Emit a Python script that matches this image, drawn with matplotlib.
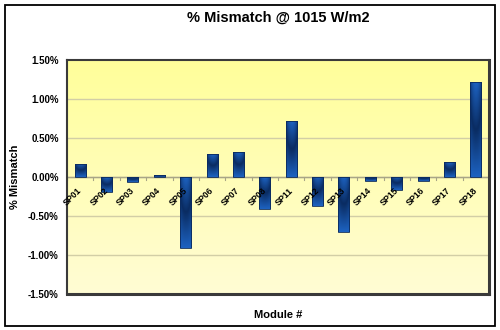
import numpy as np
import matplotlib.pyplot as plt
from matplotlib.colors import LinearSegmentedColormap
from matplotlib.patches import Rectangle
import matplotlib.transforms as mtransforms

# module ids and measured mismatch (%)
modules = ['SP01', 'SP02', 'SP03', 'SP04', 'SP05', 'SP06', 'SP07', 'SP08',
           'SP11', 'SP12', 'SP13', 'SP14', 'SP15', 'SP16', 'SP17', 'SP18']
mismatch = [0.17, -0.19, -0.07, 0.02, -0.92, 0.29, 0.32, -0.41,
            0.71, -0.38, -0.71, -0.06, -0.17, -0.06, 0.19, 1.22]
yticks = [-1.5, -1.0, -0.5, 0.0, 0.5, 1.0, 1.5]

plt.rcParams['font.family'] = ['Liberation Sans', 'DejaVu Sans']
plt.rcParams['font.weight'] = 'bold'

fig = plt.figure(figsize=(5, 3.3), dpi=100)
W, H = 500, 330
ax = fig.add_axes([67 / W, 1 - 293.5 / H, (489 - 67) / W, (293.5 - 60) / H])

# outer frame of the whole chart
fig.patches.append(Rectangle((4.5 / W, 4.5 / H), 490 / W, 321 / H, transform=fig.transFigure,
                             fill=False, edgecolor='black', lw=1.3, zorder=0))

x = np.arange(len(modules))
ax.set_xlim(-0.5, len(modules) - 0.5)
ax.set_ylim(-1.5, 1.5)

# yellow plot background, brighter at top
bg = LinearSegmentedColormap.from_list('bg', ['#fffcd4', '#ffff9a'])
grad = np.linspace(0, 1, 256).reshape(-1, 1)
ax.imshow(grad, cmap=bg, origin='lower', aspect='auto', extent=[0, 1, 0, 1],
          transform=ax.transAxes, zorder=0)

for t in yticks[1:-1]:
    ax.axhline(t, color='#d2cea6', lw=1.0, zorder=1)
ax.axhline(0, color='#a8a586', lw=1.0, zorder=1)
for b in np.arange(-0.5, len(modules), 1.0):
    ax.plot([b, b], [0, -0.04], color='#a8a586', lw=0.8, zorder=1)

# bars with dark-centred blue shading
bars = ax.bar(x, mismatch, width=0.42, color='#1a5cb4', zorder=2)
shade = LinearSegmentedColormap.from_list('shade', ['#1d62c0', '#0a2c62', '#1d62c0'])
yy = np.linspace(0, 1, 64).reshape(-1, 1)
xx = np.linspace(-1, 1, 16).reshape(1, -1)
for bar in bars:
    x0, y0 = bar.get_x(), bar.get_y()
    w, h = bar.get_width(), bar.get_height()
    img = yy * (1 - 0.35 * xx ** 2)
    im = ax.imshow(img, cmap=shade, vmin=0, vmax=1, aspect='auto', origin='lower',
                   extent=[x0, x0 + w, min(y0, y0 + h), max(y0, y0 + h)], zorder=3)
    im.set_clip_path(bar)
    ax.add_patch(Rectangle((x0, y0), w, h, fill=False, edgecolor='#0b2a5c', lw=0.6, zorder=4))

# category labels hang from the zero line
off = mtransforms.offset_copy(ax.transData, fig=fig, x=-3, y=-9, units='dots')
for xi, name in zip(x, modules):
    ax.text(xi, 0, name, transform=off, rotation=45, rotation_mode='anchor',
            ha='right', va='top', fontsize=6.3, fontweight='bold', zorder=5)

ax.set_xticks([])
ax.set_yticks(yticks)
ax.set_yticklabels([f'{v:.2f}%' for v in yticks], fontsize=7, fontweight='bold')
ax.tick_params(axis='y', length=0, pad=6)

for s in ['top', 'left']:
    ax.spines[s].set_color('#3a3a3a')
    ax.spines[s].set_linewidth(1.5)
for s in ['bottom', 'right']:
    ax.spines[s].set_color('#3a3a3a')
    ax.spines[s].set_linewidth(2.2)

ax.set_ylabel('% Mismatch', fontsize=8, fontweight='bold')
ax.yaxis.set_label_coords(15 / W, 0.5, transform=mtransforms.blended_transform_factory(
    fig.transFigure, ax.transAxes))
ax.yaxis.label.set_va('center')
ax.set_xlabel('Module #', fontsize=8, fontweight='bold', labelpad=12)
fig.text(278 / W, 1 - 18 / H, '% Mismatch @ 1015 W/m2', ha='center', va='center',
         fontsize=10.5, fontweight='bold')

fig.savefig('out.png', dpi=100)
